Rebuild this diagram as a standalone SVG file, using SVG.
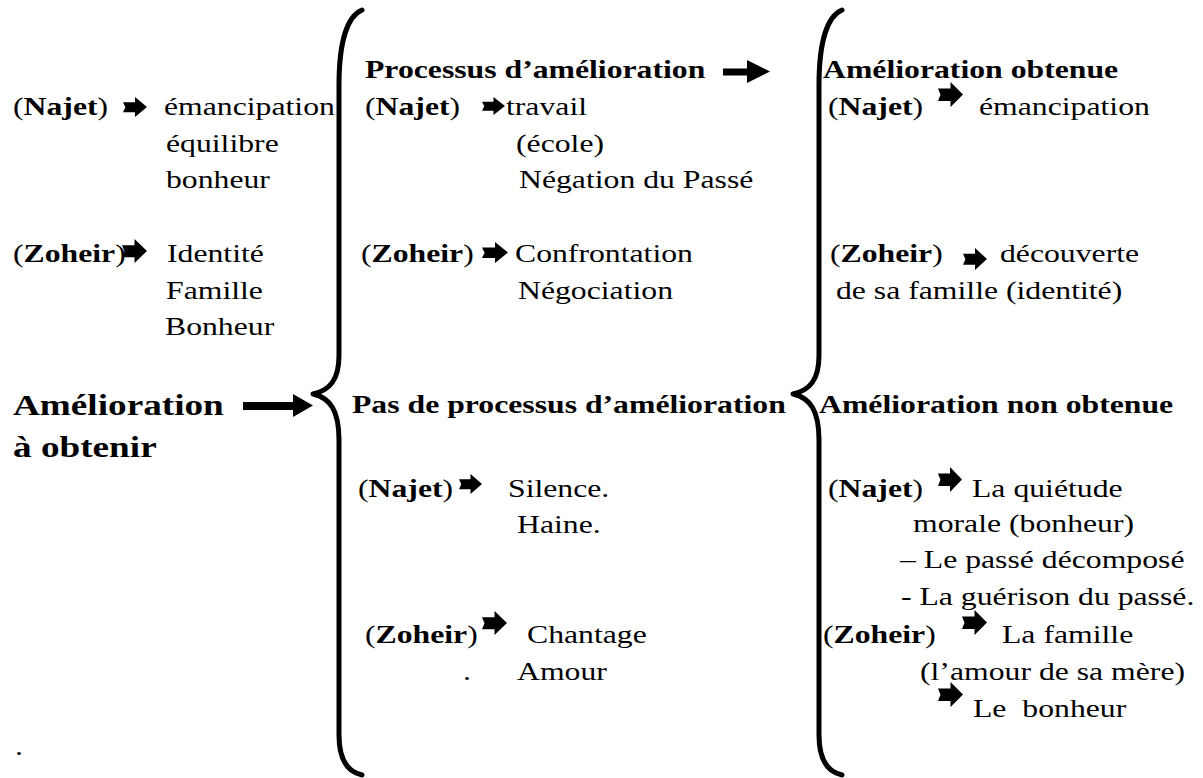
<svg xmlns="http://www.w3.org/2000/svg" width="1203" height="778" viewBox="0 0 1203 778">
<style>
  .t text { font-family: 'Liberation Serif', 'DejaVu Serif', serif; font-size: 26px; fill: #000; }
  .t .b { font-weight: bold; }
  .t .big { font-size: 30.5px; font-weight: bold; }
  .brace { fill: none; stroke: #000; stroke-width: 5; stroke-linecap: round; stroke-linejoin: round; }
  .arr { fill: #000; }
</style>
<defs>
  <path id="ar" d="M0,0.26 L0.5,0.26 L0.5,0 L1,0.5 L0.5,1 L0.5,0.76 L0,0.76 L0.1,0.51 Z"/>
</defs>

<g id="connectors">
  <path class="brace" d="M362,10 C348,16 339,40 339,85 L339,355 C339,380 330,390 313,394 C330,398 339,410 339,440 L339,735 C339,760 348,772 362,775"/>
  <path class="brace" d="M842,10 C828,16 819,40 819,85 L819,355 C819,380 810,390 793,394 C810,398 819,410 819,440 L819,735 C819,760 828,772 842,775"/>
  <path class="arr" d="M243,402 L293,402 L293,394 L313,405.5 L293,417 L293,410 L243,410 Z"/>
  <path class="arr" d="M723,68.5 L747,68.5 L747,60 L770,71.5 L747,83 L747,75.5 L723,75.5 Z"/>
</g>

<g class="t" font-family="Liberation Serif, DejaVu Serif, serif">
<g id="node-a-obtenir">
  <text class="big" transform="translate(13 415) scale(1.22 1)">Amélioration</text>
  <text class="big" transform="translate(13 457) scale(1.22 1)">à obtenir</text>
</g>

<g id="node-left-najet">
  <text transform="translate(13 115) scale(1.22 1)">(<tspan class="b">Najet</tspan>)</text>
  <use class="arr" href="#ar" transform="translate(123 97) scale(24 20)"/>
  <text transform="translate(164 115) scale(1.22 1)">émancipation</text>
  <text transform="translate(166 152) scale(1.22 1)">équilibre</text>
  <text transform="translate(166 188) scale(1.22 1)">bonheur</text>
</g>

<g id="node-left-zoheir">
  <text transform="translate(13 262) scale(1.22 1)">(<tspan class="b">Zoheir</tspan>)</text>
  <use class="arr" href="#ar" transform="translate(122 239) scale(25 24)"/>
  <text transform="translate(167 262) scale(1.22 1)">Identité</text>
  <text transform="translate(166 299) scale(1.22 1)">Famille</text>
  <text transform="translate(165 335) scale(1.22 1)">Bonheur</text>
</g>

<g id="node-dot">
  <text transform="translate(15 755) scale(1.22 1)">.</text>
</g>

<g id="node-processus">
  <text class="b" transform="translate(365 78) scale(1.22 1)">Processus d’amélioration</text>
</g>

<g id="node-proc-najet">
  <text transform="translate(365 115) scale(1.22 1)">(<tspan class="b">Najet</tspan>)</text>
  <use class="arr" href="#ar" transform="translate(482 97) scale(23 18)"/>
  <text transform="translate(506 115) scale(1.22 1)">travail</text>
  <text transform="translate(516 152) scale(1.22 1)">(école)</text>
  <text transform="translate(519 188) scale(1.22 1)">Négation du Passé</text>
</g>

<g id="node-proc-zoheir">
  <text transform="translate(361 262) scale(1.22 1)">(<tspan class="b">Zoheir</tspan>)</text>
  <use class="arr" href="#ar" transform="translate(482 242) scale(26 21)"/>
  <text transform="translate(515 262) scale(1.22 1)">Confrontation</text>
  <text transform="translate(518 299) scale(1.22 1)">Négociation</text>
</g>

<g id="node-pas-processus">
  <text class="b" transform="translate(352 413) scale(1.22 1)">Pas de processus d’amélioration</text>
</g>

<g id="node-pas-najet">
  <text transform="translate(358 497) scale(1.22 1)">(<tspan class="b">Najet</tspan>)</text>
  <use class="arr" href="#ar" transform="translate(459 474) scale(23 20)"/>
  <text transform="translate(508 497) scale(1.22 1)">Silence.</text>
  <text transform="translate(517 533) scale(1.22 1)">Haine.</text>
</g>

<g id="node-pas-zoheir">
  <text transform="translate(365 643) scale(1.22 1)">(<tspan class="b">Zoheir</tspan>)</text>
  <use class="arr" href="#ar" transform="translate(482 611) scale(25 24)"/>
  <text transform="translate(527 643) scale(1.22 1)">Chantage</text>
  <text transform="translate(463 680) scale(1.22 1)">.</text>
  <text transform="translate(517 680) scale(1.22 1)">Amour</text>
</g>

<g id="node-obtenue">
  <text class="b" transform="translate(823 78) scale(1.22 1)">Amélioration obtenue</text>
</g>

<g id="node-obt-najet">
  <text transform="translate(828 115) scale(1.22 1)">(<tspan class="b">Najet</tspan>)</text>
  <use class="arr" href="#ar" transform="translate(938 82) scale(25 25)"/>
  <text transform="translate(979 115) scale(1.22 1)">émancipation</text>
</g>

<g id="node-obt-zoheir">
  <text transform="translate(830 262) scale(1.22 1)">(<tspan class="b">Zoheir</tspan>)</text>
  <use class="arr" href="#ar" transform="translate(963 248) scale(24 22)"/>
  <text transform="translate(1000 262) scale(1.22 1)">découverte</text>
  <text transform="translate(836 299) scale(1.22 1)">de sa famille (identité)</text>
</g>

<g id="node-non-obtenue">
  <text class="b" transform="translate(819 413) scale(1.22 1)">Amélioration non obtenue</text>
</g>

<g id="node-non-najet">
  <text transform="translate(828 497) scale(1.22 1)">(<tspan class="b">Najet</tspan>)</text>
  <use class="arr" href="#ar" transform="translate(938 467) scale(24 25)"/>
  <text transform="translate(972 497) scale(1.22 1)">La quiétude</text>
  <text transform="translate(913 532) scale(1.22 1)">morale (bonheur)</text>
  <text transform="translate(900 568) scale(1.22 1)">– Le passé décomposé</text>
  <text transform="translate(901 605) scale(1.22 1)">- La guérison du passé.</text>
</g>

<g id="node-non-zoheir">
  <text transform="translate(823 643) scale(1.22 1)">(<tspan class="b">Zoheir</tspan>)</text>
  <use class="arr" href="#ar" transform="translate(962 610) scale(25 25)"/>
  <text transform="translate(1002 643) scale(1.22 1)">La famille</text>
  <text transform="translate(920 680) scale(1.22 1)">(l’amour de sa mère)</text>
  <use class="arr" href="#ar" transform="translate(938 682) scale(25 25)"/>
  <text transform="translate(973 717) scale(1.22 1)" xml:space="preserve">Le  bonheur</text>
</g>
</g>
</svg>
